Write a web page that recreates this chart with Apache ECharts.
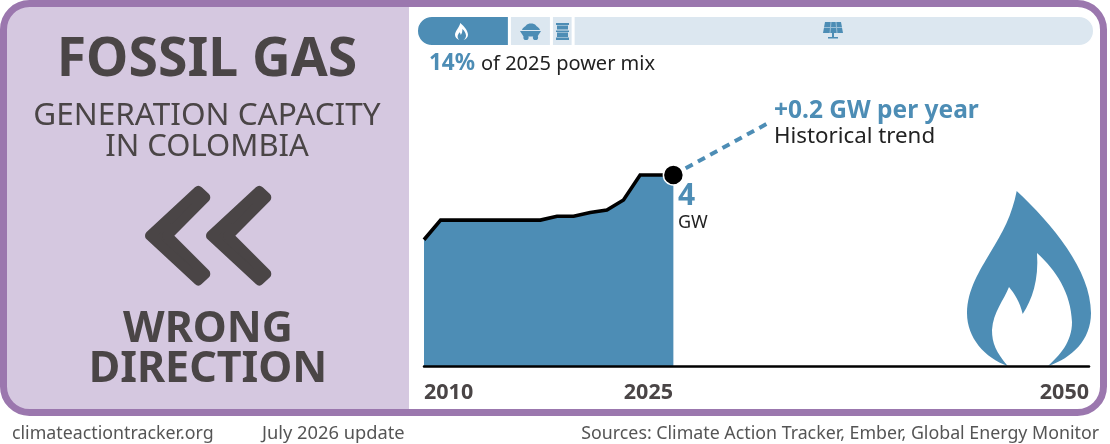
<!DOCTYPE html>
<html><head><meta charset="utf-8">
<style>html,body{margin:0;padding:0;background:#fff}#c{width:1110px;height:444px}</style>
<script src="https://cdn.jsdelivr.net/npm/echarts@6/dist/echarts.min.js"></script>
</head><body><div id="c"></div>
<script>
const years = [2010,2011,2012,2013,2014,2015,2016,2017,2018,2019,2020,2021,2022,2023,2024,2025];
const capacity = [2.63,3.04,3.04,3.04,3.04,3.04,3.04,3.04,3.12,3.12,3.2,3.25,3.46,3.98,3.98,3.98];
const trendYears = [2025,2030.8];
const trendValues = [3.98,5.08];
const xTicks = [2010,2025,2050];
const mixLabels = ['Gas','Coal','Oil','Other'];
const mixShares = [13.7,6.2,3.2,76.9];

const FONT = '"Noto Sans", sans-serif';
const BLUE = '#4D8DB5', PALE = '#DCE7F0', DARK = '#4A4546', PURPLE = '#9B77AE', LILAC = '#D5C8E0';
const flamePath = 'M1016.7 191 C1012 215 1003 232 990 253 C980 270 967 290 967 313 C967 338 985 358 1007.7 366 C996 352 992 343 992 330 C993 312 1004 300 1009 287 C1014 293 1020 302 1022.7 314 C1032 300 1039 280 1037 253 C1056 270 1071 293 1072 322 C1072 342 1060 355 1048 366 C1072 358 1091 340 1091 313 C1091 270 1052 224 1016.7 191 Z';
const pilePath = 'M522 30 C523 27 525 27 526 25.5 C528 23 534 23 536 25.5 C537 27 539 27 540 30 Z';

function txt(x,y,t,size,opt){ opt=opt||{}; return {type:'text',z:20,x:x,y:y,style:{text:t,font:(opt.bold?'bold ':'')+size+'px '+FONT,fill:opt.fill||DARK,textAlign:opt.align||'left',textVerticalAlign:'middle'}}; }
function pathEl(d,x,y,w,h,fill){ return {type:'path',shape:{pathData:d,layout:'cover',x:x,y:y,width:w,height:h},style:{fill:fill}}; }
function chevron(dx){ return {type:'polygon',z:10,shape:{points:[[150+dx,235.7],[198.3+dx,191],[205.3+dx,197.5],[167.3+dx,235.7],[205.3+dx,273.9],[198.3+dx,280.4]]},style:{fill:DARK,stroke:DARK,lineWidth:10,lineJoin:'round'}}; }
function r(x,y,w,h,fill,rad){ return {type:'rect',z:6,shape:{x:x,y:y,width:w,height:h,r:rad||0},style:{fill:fill}}; }

const graphics = [
  {type:'rect',z:-2,shape:{x:3.5,y:3.5,width:1100,height:409,r:26},style:{fill:'#fff'}},
  {type:'rect',z:-1,shape:{x:3.5,y:3.5,width:405.5,height:409,r:[26,0,0,26]},style:{fill:LILAC}},
  {type:'rect',z:15,shape:{x:3.5,y:3.5,width:1100,height:409,r:26},style:{fill:'none',stroke:PURPLE,lineWidth:7}},
  txt(207,61,'FOSSIL GAS',53.5,{bold:true,align:'center'}),
  txt(207,116,'GENERATION CAPACITY',31.5,{align:'center'}),
  txt(207,147,'IN COLOMBIA',31,{align:'center'}),
  chevron(0),chevron(61),
  txt(208,330,'WRONG',43,{bold:true,align:'center'}),
  txt(208,370,'DIRECTION',43,{bold:true,align:'center'}),
  {type:'polygon',z:6,shape:{points:[[520,31],[541,31],[537.5,36.5],[523.5,36.5]]},style:{fill:BLUE}},
  {type:'circle',z:6,shape:{cx:526,cy:37.5,r:2.6},style:{fill:BLUE}},
  {type:'circle',z:6,shape:{cx:535.5,cy:37.5,r:2.6},style:{fill:BLUE}},
  r(556,23,13,2,BLUE), r(557,25.5,11,4,BLUE), r(556,30.5,13,1.5,BLUE), r(557,32.5,11,4.5,BLUE), r(556,37.5,13,2.5,BLUE),
  {type:'polygon',z:6,shape:{points:[[825,22],[841,22],[843,33],[823,33]]},style:{fill:BLUE}},
  {type:'polyline',z:7,shape:{points:[[831,22],[830,33]]},style:{stroke:'#9CC0D8',lineWidth:1}},
  {type:'polyline',z:7,shape:{points:[[836,22],[837,33]]},style:{stroke:'#9CC0D8',lineWidth:1}},
  {type:'polyline',z:7,shape:{points:[[824,27.5],[842,27.5]]},style:{stroke:'#9CC0D8',lineWidth:1}},
  r(832,33,2,4,BLUE), r(828,37,10,1.5,BLUE),
  txt(429,64,'14%',22.5,{bold:true,fill:BLUE}),
  txt(481,64,'of 2025 power mix',20,{fill:'#222'}),
  txt(774,111,'+0.2 GW per year',24.5,{bold:true,fill:BLUE}),
  txt(774,137,'Historical trend',22.3,{fill:'#222'}),
  txt(678,196,'4',30,{bold:true,fill:BLUE}),
  txt(678,223,'GW',18,{fill:'#222'}),
  txt(12,434,'climateactiontracker.org',17.8,{fill:'#555'}),
  txt(262,434,'July 2026 update',18.3,{fill:'#555'}),
  txt(1099,434,'Sources: Climate Action Tracker, Ember, Global Energy Monitor',17.8,{fill:'#555',align:'right'})
];

const mixSeries = mixLabels.map((n,i)=>({
  name:n,type:'bar',stack:'mix',xAxisIndex:1,yAxisIndex:1,barWidth:'100%',silent:true,z:2,
  data:[mixShares[i]],
  itemStyle:{color:i===0?BLUE:PALE,borderColor:'#fff',borderWidth:1.5,
    borderRadius:i===0?[15,0,0,15]:i===3?[0,15,15,0]:0}
}));

const chart = echarts.init(document.getElementById('c'),null,{renderer:'canvas'});
chart.setOption({
  animation:false,
  grid:[{left:424,top:78,width:665,height:288},{left:416.5,top:15.5,width:678,height:31}],
  xAxis:[
    {type:'value',gridIndex:0,min:2010,max:2050,z:8,splitLine:{show:false},axisTick:{show:false},
     axisLine:{show:true,lineStyle:{color:'#000',width:2.5}},
     axisLabel:{customValues:xTicks,margin:16,alignMinLabel:'left',alignMaxLabel:'right',hideOverlap:false,
       formatter:v=>v===2025?'{r|2025}':String(v),
       fontFamily:FONT,fontWeight:'bold',fontSize:21.5,color:DARK,
       rich:{r:{fontFamily:FONT,fontWeight:'bold',fontSize:21.5,color:DARK,padding:[0,50,0,0]}}}},
    {type:'value',gridIndex:1,min:0,max:100,show:false}
  ],
  yAxis:[
    {type:'value',gridIndex:0,min:0,max:6,show:false,splitLine:{show:false}},
    {type:'category',gridIndex:1,data:['mix'],show:false}
  ],
  graphic:{elements:graphics},
  series:[
    {type:'custom',xAxisIndex:0,yAxisIndex:0,z:1,silent:true,clip:false,data:[[2010,0]],
     renderItem:()=>({type:'group',children:[pathEl(flamePath,967,191,124,175,BLUE)]})},
    {type:'custom',xAxisIndex:1,yAxisIndex:1,z:6,silent:true,clip:false,data:[[0,0]],
     renderItem:()=>({type:'group',children:[pathEl(flamePath,455,23,13,17,'#fff'),pathEl(pilePath,522,23.5,18,6.5,BLUE)]})},
    {type:'line',xAxisIndex:0,yAxisIndex:0,z:3,symbol:'none',silent:true,
     data:years.map((y,i)=>[y,capacity[i]]),
     lineStyle:{color:'#000',width:3.6,join:'miter'},areaStyle:{color:BLUE,opacity:1}},
    {type:'line',xAxisIndex:0,yAxisIndex:0,z:3,symbol:'none',silent:true,
     data:trendYears.map((y,i)=>[y,trendValues[i]]),
     lineStyle:{color:BLUE,width:4,type:[8,6]}},
    {type:'scatter',xAxisIndex:0,yAxisIndex:0,z:5,silent:true,symbolSize:20,
     data:[[years[years.length-1],capacity[capacity.length-1]]],
     itemStyle:{color:'#000',borderColor:'#fff',borderWidth:1.5,opacity:1}},
    ...mixSeries
  ]
});
</script></body></html>
